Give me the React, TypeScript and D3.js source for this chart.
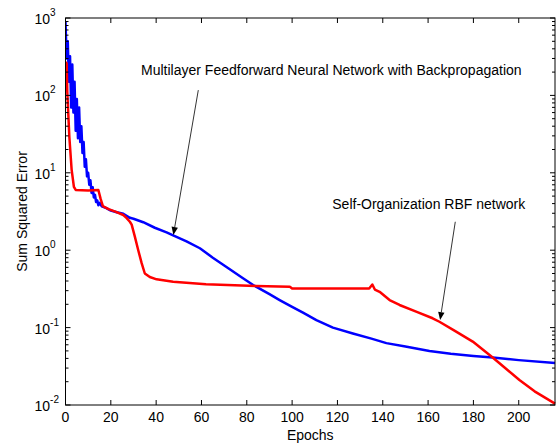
import React from 'react';
import * as d3 from 'd3';

// Multilayer feedforward network with backpropagation (blue)
const bpEpochs = [0, 0.5, 1, 1.5, 2, 2.5, 3, 3.5, 4, 4.5, 5, 5.5, 6, 6.5, 7, 7.5, 8, 8.5, 9, 9.5, 10, 10.5, 11, 11.5, 12, 12.5, 13, 13.5, 14, 14.5, 15, 16, 18, 20, 22.6, 25.5, 28.4, 30, 34.3, 39.4, 44.6, 47.5, 53.4, 59.3, 65, 72, 78, 82.8, 90, 94.5, 100, 105, 110.7, 118, 126.8, 135, 141.6, 150, 160.6, 170, 180, 188.5, 200, 216];
const bpSSE = [900, 300, 500, 150, 320, 70, 250, 60, 150, 35, 90, 28, 70, 25, 40, 18, 25, 12, 15, 9, 10, 7, 8, 5.5, 6.5, 4.8, 5.2, 4.2, 4.4, 3.8, 4.1, 3.7, 3.5, 3.25, 3.1, 2.95, 2.62, 2.55, 2.3, 1.95, 1.7, 1.55, 1.3, 1.06, 0.8, 0.58, 0.44, 0.355, 0.27, 0.227, 0.185, 0.155, 0.125, 0.1, 0.084, 0.072, 0.063, 0.057, 0.05, 0.046, 0.043, 0.041, 0.038, 0.035];

// Self-organization RBF network (red)
const rbfEpochs = [0, 0.5, 0.8, 1.7, 2.7, 3.7, 4.5, 10, 14.5, 15.5, 16.5, 19, 22, 25.5, 27, 28.4, 29.2, 30.6, 32.1, 33.6, 35, 37.2, 40.2, 47.5, 62, 84, 99, 100, 120, 134, 135.4, 136.5, 138.6, 143, 147.4, 155, 162, 165, 172, 179.7, 188.5, 194, 200.3, 207, 216];
const rbfSSE = [270, 260, 110, 29, 11, 6.6, 6.0, 5.9, 6.0, 4.6, 3.7, 3.4, 3.15, 2.85, 2.6, 2.33, 2.14, 1.5, 1.0, 0.68, 0.5, 0.45, 0.42, 0.39, 0.363, 0.344, 0.337, 0.32, 0.32, 0.32, 0.36, 0.31, 0.29, 0.227, 0.196, 0.16, 0.132, 0.119, 0.09, 0.066, 0.041, 0.03, 0.021, 0.015, 0.0104];

const xTicks = [0, 20, 40, 60, 80, 100, 120, 140, 160, 180, 200];
const yDecades = [-2, -1, 0, 1, 2, 3];

// annotations: [text epoch, text value, arrow start epoch, start value, tip epoch, tip value]
const labelBP = 'Multilayer Feedforward Neural Network with Backpropagation';
const labelRBF = 'Self-Organization RBF network';
const annBP = [117.3, 184, 58.6, 117, 47.6, 1.57];
const annRBF = [160.3, 3.4, 172, 2.33, 165.3, 0.125];

const W = 560, H = 448;
const left = 65.5, right = 555, top = 18, bottom = 405;
const font = '"Liberation Sans", Arial, sans-serif';

function Arrow({ x1, y1, x2, y2 }: { x1: number; y1: number; x2: number; y2: number }) {
  const a = Math.atan2(y2 - y1, x2 - x1);
  const len = 8, hw = 3.2;
  const bx = x2 - len * Math.cos(a), by = y2 - len * Math.sin(a);
  const p1 = [bx + hw * Math.sin(a), by - hw * Math.cos(a)];
  const p2 = [bx - hw * Math.sin(a), by + hw * Math.cos(a)];
  return (
    <g>
      <line x1={x1} y1={y1} x2={bx} y2={by} stroke="#000" strokeWidth={0.8} />
      <polygon points={`${x2},${y2} ${p1[0]},${p1[1]} ${p2[0]},${p2[1]}`} fill="#000" />
    </g>
  );
}

export default function App() {
  const x = d3.scaleLinear().domain([0, 216]).range([left, right]);
  const y = d3.scaleLog().domain([0.01, 1000]).range([bottom, top]);

  const line = d3.line<[number, number]>().x(d => x(d[0])).y(d => y(d[1]));
  const bp = bpEpochs.map((e, i) => [e, bpSSE[i]] as [number, number]);
  const rbf = rbfEpochs.map((e, i) => [e, rbfSSE[i]] as [number, number]);

  const minors: number[] = [];
  yDecades.slice(0, -1).forEach(k => {
    for (let m = 2; m <= 9; m++) minors.push(m * Math.pow(10, k));
  });

  return (
    <svg width={W} height={H} style={{ position: 'absolute', left: 0, top: 0, background: '#fff' }}
      fontFamily={font} fontSize={14}>
      <rect x={0} y={0} width={W} height={H} fill="#fff" />
      <defs>
        <clipPath id="plotclip">
          <rect x={left} y={top - 2} width={right - left + 1} height={bottom - top + 3} />
        </clipPath>
      </defs>

      <g clipPath="url(#plotclip)">
        <path d={line(bp) || ''} fill="none" stroke="#0000ff" strokeWidth={2.5} strokeLinejoin="round" />
        <path d={line(rbf) || ''} fill="none" stroke="#ff0000" strokeWidth={2.5} strokeLinejoin="round" />
      </g>

      {/* axes box */}
      <rect x={left} y={top} width={right - left} height={bottom - top} fill="none" stroke="#000" strokeWidth={1} />

      {/* x ticks */}
      {xTicks.map(t => (
        <g key={'x' + t}>
          <line x1={x(t)} x2={x(t)} y1={bottom} y2={bottom - 5} stroke="#000" />
          <line x1={x(t)} x2={x(t)} y1={top} y2={top + 5} stroke="#000" />
          <text x={x(t)} y={bottom + 17} textAnchor="middle" fill="#000">{t}</text>
        </g>
      ))}

      {/* y ticks */}
      {yDecades.map(k => (
        <g key={'y' + k}>
          <line x1={left} x2={left + 5} y1={y(Math.pow(10, k))} y2={y(Math.pow(10, k))} stroke="#000" />
          <line x1={right} x2={right - 5} y1={y(Math.pow(10, k))} y2={y(Math.pow(10, k))} stroke="#000" />
          <text x={34.5} y={y(Math.pow(10, k)) + 6} fill="#000">
            10<tspan dy={-8} fontSize={10}>{k}</tspan>
          </text>
        </g>
      ))}
      {minors.map((v, i) => (
        <g key={'m' + i}>
          <line x1={left} x2={left + 3} y1={y(v)} y2={y(v)} stroke="#000" />
          <line x1={right} x2={right - 3} y1={y(v)} y2={y(v)} stroke="#000" />
        </g>
      ))}

      {/* axis labels */}
      <text x={(left + right) / 2} y={440} textAnchor="middle" fill="#000">Epochs</text>
      <text transform={`translate(27, ${(top + bottom) / 2}) rotate(-90)`} textAnchor="middle" fill="#000">Sum Squared Error</text>

      {/* annotations */}
      <text x={x(annBP[0])} y={y(annBP[1])} textAnchor="middle" fill="#000">{labelBP}</text>
      <Arrow x1={x(annBP[2])} y1={y(annBP[3])} x2={x(annBP[4])} y2={y(annBP[5])} />
      <text x={x(annRBF[0])} y={y(annRBF[1])} textAnchor="middle" fill="#000">{labelRBF}</text>
      <Arrow x1={x(annRBF[2])} y1={y(annRBF[3])} x2={x(annRBF[4])} y2={y(annRBF[5])} />
    </svg>
  );
}
